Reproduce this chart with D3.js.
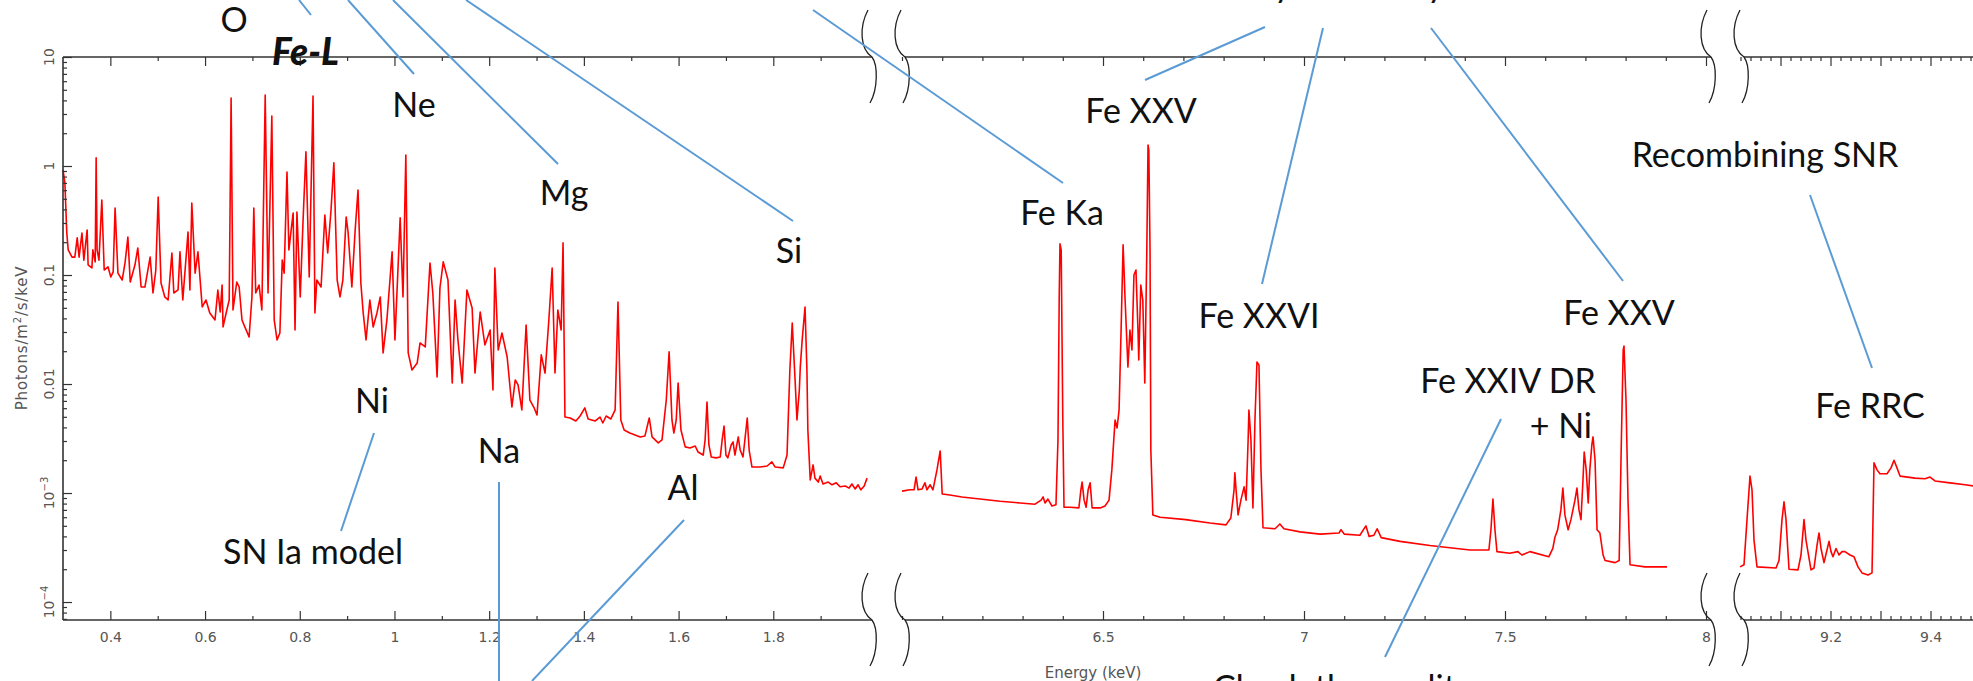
<!DOCTYPE html>
<html><head><meta charset="utf-8">
<script src="https://cdn.jsdelivr.net/npm/d3@7/dist/d3.min.js"></script>
<style>html,body{margin:0;padding:0;background:#fff;}svg{display:block;}</style>
</head><body>
<svg id="chart" width="1973" height="681"></svg>
<script>
// ---------- DATA (energy keV, photons/m^2/s/keV) ----------
const lowBand = [
[0.300,0.92],[0.304,0.70],[0.308,0.243],[0.311,0.170],[0.319,0.146],[0.325,0.146],[0.330,0.219],[0.334,0.146],[0.340,0.243],[0.344,0.137],
[0.351,0.259],[0.353,0.124],[0.361,0.116],[0.363,0.170],[0.368,0.132],[0.370,1.19],[0.372,0.170],[0.376,0.137],[0.382,0.488],[0.387,0.111],
[0.395,0.119],[0.401,0.0959],[0.406,0.107],[0.410,0.412],[0.416,0.104],[0.425,0.090],[0.431,0.129],[0.437,0.223],[0.442,0.0863],[0.452,0.124],
[0.458,0.177],[0.465,0.0776],[0.473,0.0776],[0.484,0.146],[0.490,0.0684],[0.496,0.111],[0.501,0.520],[0.507,0.0845],[0.515,0.0629],[0.522,0.059],
[0.530,0.159],[0.534,0.0684],[0.543,0.0729],[0.547,0.163],[0.553,0.059],[0.564,0.248],[0.568,0.0729],[0.572,0.458],[0.579,0.104],[0.585,0.163],
[0.594,0.0509],[0.602,0.059],[0.610,0.0448],[0.621,0.0387],[0.627,0.0729],[0.632,0.0458],[0.636,0.081],[0.638,0.0334],[0.646,0.0478],[0.651,0.059],
[0.655,4.21],[0.659,0.0478],[0.667,0.0863],[0.672,0.0776],[0.678,0.0387],[0.684,0.0334],[0.693,0.027],[0.699,0.0629],[0.703,0.412],[0.707,0.0684],
[0.714,0.081],[0.720,0.0478],[0.727,4.48],[0.733,0.0684],[0.741,2.88],[0.746,0.0387],[0.752,0.0254],[0.758,0.0294],[0.763,0.137],[0.767,0.104],
[0.773,0.881],[0.777,0.170],[0.786,0.371],[0.790,0.0313],[0.794,0.379],[0.801,0.0629],[0.807,0.320],[0.813,1.35],[0.820,0.0959],[0.828,4.39],
[0.832,0.0448],[0.836,0.090],[0.845,0.0776],[0.853,0.355],[0.859,0.159],[0.866,0.395],[0.872,1.07],[0.879,0.090],[0.885,0.0629],[0.891,0.090],
[0.898,0.341],[0.902,0.248],[0.910,0.0776],[0.917,0.259],[0.923,0.603],[0.929,0.0845],[0.934,0.0448],[0.940,0.0254],[0.948,0.059],[0.955,0.0334],
[0.963,0.0448],[0.970,0.0629],[0.976,0.0193],[0.984,0.0387],[0.995,0.163],[1.001,0.0254],[1.012,0.334],[1.018,0.0629],[1.024,1.26],[1.029,0.0193],
[1.037,0.01345],[1.048,0.0156],[1.054,0.0238],[1.065,0.0219],[1.075,0.129],[1.081,0.0684],[1.090,0.0116],[1.096,0.076],[1.103,0.132],[1.113,0.090],
[1.122,0.0102],[1.128,0.059],[1.134,0.0254],[1.143,0.0102],[1.153,0.0729],[1.164,0.0498],[1.170,0.0126],[1.181,0.0458],[1.191,0.0228],[1.202,0.0313],
[1.208,0.0088],[1.212,0.116],[1.219,0.0205],[1.227,0.0294],[1.238,0.0177],[1.248,0.00615],[1.255,0.0109],[1.261,0.0098],[1.269,0.00578],[1.278,0.0348],
[1.286,0.00713],[1.295,0.00603],[1.301,0.0052],[1.310,0.0185],[1.318,0.0126],[1.326,0.0387],[1.333,0.116],[1.339,0.0126],[1.345,0.0478],[1.352,0.0313],
[1.356,0.197],[1.360,0.00498],[1.371,0.00488],[1.383,0.00458],[1.392,0.00509],[1.402,0.00603],[1.409,0.00478],[1.424,0.00458],[1.434,0.00498],[1.440,0.00439],
[1.447,0.00509],[1.457,0.00478],[1.466,0.00578],[1.472,0.0566],[1.478,0.00468],[1.485,0.00379],[1.497,0.00355],[1.519,0.00327],[1.529,0.00334],[1.538,0.00488],
[1.544,0.00327],[1.557,0.00288],[1.565,0.00307],[1.574,0.00713],[1.580,0.0197],[1.586,0.00468],[1.590,0.00355],[1.595,0.00468],[1.599,0.0102],[1.605,0.00379],
[1.614,0.00265],[1.624,0.00259],[1.635,0.0027],[1.641,0.00238],[1.652,0.00223],[1.656,0.00307],[1.660,0.00684],[1.664,0.00276],[1.669,0.00214],[1.679,0.0021],
[1.688,0.00214],[1.692,0.00307],[1.696,0.00412],[1.700,0.00223],[1.704,0.0021],[1.711,0.00276],[1.715,0.00294],[1.719,0.00223],[1.726,0.00327],[1.730,0.00248],
[1.736,0.00214],[1.740,0.00307],[1.745,0.00488],[1.749,0.00248],[1.755,0.00173],[1.772,0.00173],[1.787,0.00177],[1.797,0.00193],[1.804,0.00173],[1.821,0.0017],
[1.829,0.00223],[1.835,0.01345],[1.840,0.0363],[1.846,0.0109],[1.850,0.00468],[1.855,0.0088],[1.857,0.0143],[1.861,0.0254],[1.867,0.0509],[1.871,0.01345],
[1.873,0.00379],[1.878,0.00132],[1.884,0.00181],[1.888,0.00137],[1.895,0.00126],[1.899,0.00143],[1.905,0.00121],[1.916,0.00126],[1.924,0.00119],[1.933,0.00124],
[1.941,0.00114],[1.952,0.00116],[1.960,0.00111],[1.966,0.00121],[1.973,0.00109],[1.979,0.00119],[1.985,0.00107],[1.992,0.00116],[1.998,0.00137]
];
const feBand = [
[6.000,0.00104],[6.020,0.00107],[6.030,0.00107],[6.035,0.0014],[6.040,0.00107],[6.050,0.00109],[6.057,0.00124],[6.062,0.00107],[6.070,0.00119],[6.077,0.00107],
[6.087,0.00163],[6.095,0.00243],[6.100,0.00098],[6.119,0.00096],[6.149,0.00092],[6.194,0.00088],[6.244,0.00084],[6.294,0.00081],[6.331,0.00079],[6.346,0.00086],
[6.351,0.00092],[6.356,0.00081],[6.363,0.00088],[6.373,0.00076],[6.383,0.00078],[6.388,0.00307],[6.391,0.059],[6.393,0.193],[6.396,0.170],[6.400,0.00468],
[6.403,0.00074],[6.418,0.00074],[6.440,0.00073],[6.445,0.00107],[6.448,0.00126],[6.453,0.00086],[6.458,0.00074],[6.463,0.00107],[6.468,0.00124],[6.473,0.00073],
[6.493,0.00073],[6.505,0.00076],[6.515,0.00086],[6.522,0.00163],[6.530,0.00468],[6.535,0.00395],[6.540,0.00578],[6.545,0.0313],[6.550,0.189],[6.555,0.059],
[6.562,0.0143],[6.567,0.0313],[6.572,0.0205],[6.577,0.1],[6.582,0.111],[6.587,0.0313],[6.589,0.0166],[6.594,0.081],[6.599,0.059],[6.604,0.0102],
[6.609,0.170],[6.612,1.56],[6.614,1.40],[6.617,0.170],[6.619,0.00248],[6.624,0.00063],[6.642,0.0006],[6.706,0.00057],[6.766,0.00053],[6.806,0.00051],
[6.818,0.00059],[6.826,0.00107],[6.828,0.00153],[6.831,0.00107],[6.836,0.00063],[6.843,0.00086],[6.851,0.00114],[6.856,0.00086],[6.861,0.00307],[6.863,0.00578],
[6.868,0.00307],[6.873,0.00073],[6.878,0.00468],[6.883,0.0159],[6.888,0.0149],[6.893,0.00163],[6.898,0.00048],[6.928,0.00047],[6.940,0.00052],[6.950,0.00047],
[6.990,0.00044],[7.040,0.00042],[7.087,0.00043],[7.092,0.00046],[7.100,0.00042],[7.139,0.00041],[7.154,0.0005],[7.162,0.0004],[7.174,0.00041],[7.182,0.00047],
[7.192,0.00039],[7.239,0.00036],[7.313,0.00033],[7.413,0.0003],[7.460,0.0003],[7.465,0.00046],[7.470,0.00088],[7.475,0.00046],[7.480,0.00029],[7.512,0.00028],
[7.532,0.00029],[7.542,0.00027],[7.562,0.00029],[7.609,0.00026],[7.619,0.00031],[7.624,0.00039],[7.631,0.00046],[7.639,0.0007],[7.644,0.00111],[7.649,0.00063],
[7.657,0.00046],[7.664,0.00057],[7.674,0.00086],[7.679,0.00111],[7.684,0.0007],[7.689,0.00057],[7.694,0.00132],[7.697,0.00238],[7.702,0.00163],[7.707,0.00081],
[7.711,0.00163],[7.716,0.00276],[7.719,0.00327],[7.724,0.002],[7.729,0.00046],[7.736,0.00043],[7.744,0.00027],[7.749,0.00024],[7.774,0.00023],[7.784,0.00024],
[7.789,0.00248],[7.794,0.0205],[7.796,0.0223],[7.801,0.00713],[7.806,0.00086],[7.811,0.00022],[7.848,0.00021],[7.903,0.00021]
];
const rrcBand = [
[9.019,0.00021],[9.027,0.00022],[9.033,0.00057],[9.039,0.00143],[9.043,0.00107],[9.047,0.00037],[9.053,0.00021],[9.091,0.000205],[9.097,0.00024],[9.103,0.00057],
[9.107,0.00083],[9.111,0.00057],[9.117,0.0002],[9.135,0.000197],[9.141,0.00027],[9.147,0.00057],[9.151,0.00037],[9.161,0.000197],[9.167,0.000205],[9.173,0.00033],
[9.177,0.00043],[9.181,0.00031],[9.187,0.00023],[9.193,0.0003],[9.197,0.00036],[9.201,0.00029],[9.205,0.00026],[9.211,0.00031],[9.217,0.00027],[9.223,0.00029],
[9.229,0.00029],[9.239,0.00027],[9.247,0.00026],[9.255,0.00021],[9.263,0.000185],[9.275,0.000177],[9.283,0.000185],[9.285,0.00057],[9.287,0.00189],[9.293,0.00163],
[9.299,0.0015],[9.313,0.0015],[9.321,0.0017],[9.327,0.002],[9.333,0.0017],[9.339,0.00143],[9.369,0.00137],[9.389,0.00135],[9.399,0.0014],[9.409,0.00129],
[9.439,0.00124],[9.469,0.00119],[9.499,0.00114]
];

// ---------- TICKS ----------
const yMajorTicks = [1e-4, 1e-3, 0.01, 0.1, 1, 10];
const yTickLabels = [["10","\u22124"],["10","\u22123"],["0.01",""],["0.1",""],["1",""],["10",""]];
const lowMajor = [0.4,0.6,0.8,1,1.2,1.4,1.6,1.8];
const lowLabels = ["0.4","0.6","0.8","1","1.2","1.4","1.6","1.8"];
const lowMinor = [0.5,0.7,0.9,1.1,1.3,1.5,1.7,1.9];
const feMajor = [6.5,7,7.5,8];
const feLabels = ["6.5","7","7.5","8"];
const feMinor = [6.0,6.1,6.2,6.3,6.4,6.6,6.7,6.8,6.9,7.1,7.2,7.3,7.4,7.6,7.7,7.8,7.9];
const rrcMajor = [9.1,9.2,9.3,9.4];
const rrcLabels = ["","9.2","","9.4"];
const rrcMinor = [9.02,9.04,9.06,9.08,9.12,9.14,9.16,9.18,9.22,9.24,9.26,9.28,9.32,9.34,9.36,9.38,9.42,9.44,9.46,9.48];

// ---------- ANNOTATIONS ----------
const labelTexts = ["O","Ne","Mg","Si","Fe Ka","Fe XXV","Fe XXVI","Fe XXV","Recombining SNR","Fe XXIV DR","+ Ni","Fe RRC","Ni","Na","Al","SN Ia model","Check the quality","y","y"];
const labelLayout = [[234,32,"middle"],[414,117,"middle"],[564,205,"middle"],[789,263,"middle"],[1062,225,"middle"],[1141,123,"middle"],[1259,328,"middle"],[1619,325,"middle"],[1765,167,"middle"],[1508,393,"middle"],[1592,438,"end"],[1870,418,"middle"],[372,413,"middle"],[499,463,"middle"],[683,500,"middle"],[313,564,"middle"],[1213,700,"start"],[1274,-3,"start"],[1427,-3,"start"]];
const leaderLines = [[299,0,311,15],[348,0,414,74],[393,0,558,164],[466,0,793,221],[813,10,1063,183],[1265,27,1145,80],[1323,28,1262,284],[1431,28,1623,281],[1810,195,1872,368],[1501,419,1385,657],[374,433,341,531],[499,482,499,681],[684,520,532,681]];

// ---------- DRAW ----------
const svg = d3.select("#chart");
const yScale = d3.scaleLog().domain([6.84e-5, 10]).range([620, 57]);
const segments = [
  {data: lowBand, x: d3.scaleLinear().domain([0.3, 2.0]).range([63, 868]), major: lowMajor, labels: lowLabels, minor: lowMinor, from: 63, to: 872},
  {data: feBand, x: d3.scaleLinear().domain([6.0, 8.0]).range([902, 1706]), major: feMajor, labels: feLabels, minor: feMinor, from: 905, to: 1711},
  {data: rrcBand, x: d3.scaleLinear().domain([9.0, 9.5]).range([1730.5, 1980.5]), major: rrcMajor, labels: rrcLabels, minor: rrcMinor, from: 1744, to: 1973}
];
const axisColor = "#333";
const tickFont = "DejaVu Sans, Liberation Sans, sans-serif";

segments.forEach(seg => {
  const gb = svg.append("g").attr("transform", "translate(0,620)");
  gb.call(d3.axisBottom(seg.x).tickValues(seg.major).tickSize(-9).tickPadding(12)
      .tickFormat((d, i) => seg.labels[i]));
  gb.call(g => g.select(".domain").remove());
  const gbm = svg.append("g").attr("transform", "translate(0,620)");
  gbm.call(d3.axisBottom(seg.x).tickValues(seg.minor).tickSize(-4).tickFormat(""));
  gbm.call(g => g.select(".domain").remove());
  const gt = svg.append("g").attr("transform", "translate(0,57)");
  gt.call(d3.axisTop(seg.x).tickValues(seg.major).tickSize(-9).tickFormat(""));
  gt.call(g => g.select(".domain").remove());
  const gtm = svg.append("g").attr("transform", "translate(0,57)");
  gtm.call(d3.axisTop(seg.x).tickValues(seg.minor).tickSize(-4).tickFormat(""));
  gtm.call(g => g.select(".domain").remove());
  [gb, gbm, gt, gtm].forEach(g => {
    g.selectAll("line").attr("stroke", axisColor).attr("stroke-width", 1.2);
    g.selectAll("text").attr("fill", "#555").style("font-family", tickFont).style("font-size", "14px");
  });
  [57, 620].forEach(yy => svg.append("line").attr("x1", seg.from).attr("x2", seg.to)
      .attr("y1", yy).attr("y2", yy).attr("stroke", axisColor).attr("stroke-width", 1.6));
  svg.append("path").datum(seg.data)
    .attr("fill", "none").attr("stroke", "#ff0000").attr("stroke-width", 1.6)
    .attr("stroke-linejoin", "round")
    .attr("d", d3.line().x(d => seg.x(d[0])).y(d => yScale(d[1])));
});

// y axis
const yMinor = [];
[1e-5, 1e-4, 1e-3, 0.01, 0.1, 1].forEach(dec => [2,3,4,5,6,7,8,9].forEach(m => {
  const v = dec * m; if (v >= 6.84e-5 && v < 10) yMinor.push(v);
}));
const gy = svg.append("g").attr("transform", "translate(63,0)");
gy.call(d3.axisLeft(yScale).tickValues(yMajorTicks).tickSize(-9).tickFormat(""));
const gym = svg.append("g").attr("transform", "translate(63,0)");
gym.call(d3.axisLeft(yScale).tickValues(yMinor).tickSize(-4).tickFormat(""));
[gy, gym].forEach(g => { g.select(".domain").remove(); g.selectAll("line").attr("stroke", axisColor).attr("stroke-width", 1.2); });
svg.append("line").attr("x1", 63).attr("x2", 63).attr("y1", 57).attr("y2", 620).attr("stroke", axisColor).attr("stroke-width", 1.6);

yMajorTicks.forEach((v, i) => {
  const t = svg.append("text")
    .attr("transform", `translate(54,${yScale(v)}) rotate(-90)`)
    .attr("text-anchor", "middle").attr("fill", "#555")
    .style("font-family", tickFont).style("font-size", "14px");
  t.append("tspan").text(yTickLabels[i][0]);
  if (yTickLabels[i][1]) t.append("tspan").attr("dy", -6).style("font-size", "10px").text(yTickLabels[i][1]);
});
const yt = svg.append("text").attr("transform", "translate(27,338) rotate(-90)")
  .attr("text-anchor", "middle").attr("fill", "#555")
  .style("font-family", tickFont).style("font-size", "15px").style("letter-spacing", "0.8px");
yt.append("tspan").text("Photons/m");
yt.append("tspan").attr("dy", -6).style("font-size", "10px").text("2");
yt.append("tspan").attr("dy", 6).text("/s/keV");

svg.append("text").attr("x", 1093).attr("y", 678).attr("text-anchor", "middle")
  .attr("fill", "#555").style("font-family", tickFont).style("font-size", "15px").text("Energy (keV)");

// axis break marks
function breakPath(cx, cy) {
  return `M${cx-4},${cy-47} C${cx-13},${cy-30} ${cx-12},${cy-8} ${cx},${cy} C${cx+6},${cy+8} ${cx+6},${cy+32} ${cx-2},${cy+46}`;
}
[872, 905, 1711, 1744].forEach(cx => [57, 620].forEach(cy => {
  svg.append("path").attr("d", breakPath(cx, cy)).attr("fill", "none")
    .attr("stroke", "#222").attr("stroke-width", 1.3);
}));

// leader lines
svg.selectAll("line.leader").data(leaderLines).enter().append("line").attr("class", "leader")
  .attr("x1", d => d[0]).attr("y1", d => d[1]).attr("x2", d => d[2]).attr("y2", d => d[3])
  .attr("stroke", "#5b9bd5").attr("stroke-width", 2);

// labels
const annFont = "Lato, 'Open Sans', sans-serif";
labelTexts.forEach((txt, i) => {
  const [lx, ly, anc] = labelLayout[i];
  svg.append("text").attr("x", lx).attr("y", ly).attr("text-anchor", anc)
    .attr("fill", "#111").style("font-family", annFont).style("font-size", "34px").text(txt);
});
svg.append("text").attr("x", 272).attr("y", 65).attr("fill", "#111")
  .style("font-family", annFont).style("font-size", "37px").style("font-weight", "900").style("font-style", "italic")
  .text("Fe-L");
</script>
</body></html>
